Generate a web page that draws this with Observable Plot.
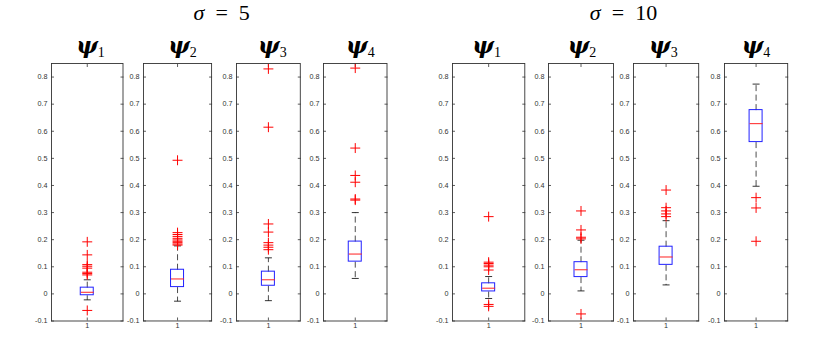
<!DOCTYPE html>
<html><head><meta charset="utf-8">
<script src="https://cdn.jsdelivr.net/npm/d3@7"></script>
<script src="https://cdn.jsdelivr.net/npm/@observablehq/plot@0.6"></script>
<style>
body{margin:0;background:#fff;}
#root{position:relative;width:830px;height:356px;overflow:hidden;background:#fff;}
.panel{position:absolute;}
#titles{position:absolute;left:0;top:0;pointer-events:none;}
</style></head><body><div id="root"></div>
<script>
// ---- data ----
const groups = ["5", "10"];
const params = ["1", "2", "3", "4"];
const xTicks = [1];
const yTicks = [-0.1, 0, 0.1, 0.2, 0.3, 0.4, 0.5, 0.6, 0.7, 0.8];
const whiskLo = [[-0.022, -0.027, -0.025, 0.057], [-0.017, 0.011, 0.033, 0.397]];
const q1      = [[-0.005, 0.025, 0.030, 0.119], [0.009, 0.062, 0.107, 0.560]];
const median  = [[0.006, 0.055, 0.052, 0.147], [0.021, 0.089, 0.136, 0.628]];
const q3      = [[0.023, 0.089, 0.082, 0.193], [0.039, 0.117, 0.174, 0.678]];
const whiskHi = [[0.052, 0.177, 0.133, 0.300], [0.064, 0.198, 0.270, 0.774]];
const outliers = [
  [
    [0.192, 0.144, 0.108, 0.102, 0.095, 0.080, 0.075, 0.070, -0.061],
    [0.493, 0.226, 0.219, 0.212, 0.205, 0.199, 0.194, 0.189, 0.184, 0.180],
    [0.830, 0.615, 0.258, 0.228, 0.189, 0.180, 0.172, 0.163],
    [0.833, 0.538, 0.437, 0.412, 0.350, 0.346]
  ],
  [
    [0.285, 0.117, 0.112, 0.106, 0.100, 0.088, -0.039, -0.046],
    [0.306, 0.236, 0.209, 0.203, -0.074],
    [0.383, 0.318, 0.306, 0.295, 0.285],
    [0.355, 0.317, 0.194]
  ]
];

// ---- layout (pixels) ----
const frameLeft  = [[50.7, 143.2, 235.5, 323.3], [451.7, 547.7, 633.3, 724.3]];
const frameRight = [[122.2, 211.3, 299.3, 386.8], [524.0, 612.7, 698.5, 787.5]];
const titleX     = [[90.5, 182.5, 272.3, 360.3], [486.7, 582.0, 663.3, 756.0]];
const groupX = [221.7, 623.5];
const frameTop = 63, frameBottom = 320.5;
const mL = 30, mR = 4, mT = 5, mB = 16;

const root = document.getElementById("root");
const fmt = d => Math.abs(d) < 1e-9 ? "0" : String(+d.toFixed(1));

let titleSvg = "";
groups.forEach((g, gi) => {
  titleSvg += `<text x="${groupX[gi]}" y="20" text-anchor="middle" font-family="'Liberation Serif', serif" font-size="22" fill="#000"><tspan font-style="italic">σ</tspan>\u2002=\u2002${g}</text>`;

  params.forEach((p, pi) => {
    const pw = frameRight[gi][pi] - frameLeft[gi][pi];
    const bh = 6.5 / pw, ch = 3.5 / pw;
    const st = {lo: whiskLo[gi][pi], q1: q1[gi][pi], med: median[gi][pi], q3: q3[gi][pi], hi: whiskHi[gi][pi]};
    const outs = outliers[gi][pi].map(v => ({v}));
    const chart = Plot.plot({
      width: pw + mL + mR,
      height: (frameBottom - frameTop) + mT + mB,
      marginLeft: mL, marginRight: mR, marginTop: mT, marginBottom: mB,
      style: {fontFamily: "'Liberation Sans', Arial, sans-serif", fontSize: "7.2px", color: "#333", background: "transparent", overflow: "visible"},
      x: {domain: [0.5, 1.5], axis: null},
      y: {domain: [-0.1, 0.85], axis: null},
      marks: [
        Plot.axisY({anchor: "left", ticks: yTicks, tickSize: -3, tickPadding: 7, tickFormat: fmt, stroke: "#333", strokeWidth: 0.8, label: null}),
        Plot.axisY({anchor: "right", ticks: yTicks, tickSize: -3, tickFormat: () => "", stroke: "#333", strokeWidth: 0.8, label: null}),
        Plot.axisX({anchor: "bottom", ticks: xTicks, tickSize: -3, tickPadding: 5, tickFormat: d => String(d), stroke: "#333", strokeWidth: 0.8, label: null}),
        Plot.axisX({anchor: "top", ticks: xTicks, tickSize: -3, tickFormat: () => "", stroke: "#333", strokeWidth: 0.8, label: null}),
        // whiskers (dashed)
        Plot.link([st], {x1: 1, x2: 1, y1: "q3", y2: "hi", stroke: "#000", strokeWidth: 0.7, strokeDasharray: "6,3.5"}),
        Plot.link([st], {x1: 1, x2: 1, y1: "q1", y2: "lo", stroke: "#000", strokeWidth: 0.7, strokeDasharray: "6,3.5"}),
        // caps
        Plot.link([st], {x1: 1 - ch, x2: 1 + ch, y1: "hi", y2: "hi", stroke: "#000", strokeWidth: 0.8}),
        Plot.link([st], {x1: 1 - ch, x2: 1 + ch, y1: "lo", y2: "lo", stroke: "#000", strokeWidth: 0.8}),
        // box
        Plot.rect([st], {x1: 1 - bh, x2: 1 + bh, y1: "q1", y2: "q3", stroke: "#2020ff", fill: "none", strokeWidth: 1}),
        // median
        Plot.link([st], {x1: 1 - bh, x2: 1 + bh, y1: "med", y2: "med", stroke: "#ff2020", strokeWidth: 1}),
        // outliers
        Plot.dot(outs, {x: 1, y: "v", symbol: "plus", r: 3.3, stroke: "#ff0000", strokeWidth: 1}),
        Plot.frame({stroke: "#333", strokeWidth: 0.9})
      ]
    });
    chart.classList.add("panel");
    chart.style.left = (frameLeft[gi][pi] - mL) + "px";
    chart.style.top = (frameTop - mT) + "px";
    root.appendChild(chart);

    titleSvg += `<text x="${titleX[gi][pi]}" y="53" text-anchor="middle" font-family="'DejaVu Serif', serif" fill="#000"><tspan font-size="23" font-style="italic" font-weight="bold">ψ</tspan><tspan font-size="14" font-family="'Liberation Serif', serif" dy="3.5">${p}</tspan></text>`;
  });
});
const overlay = document.createElementNS("http://www.w3.org/2000/svg", "svg");
overlay.setAttribute("id", "titles");
overlay.setAttribute("width", 830);
overlay.setAttribute("height", 356);
overlay.innerHTML = titleSvg;
root.appendChild(overlay);
</script>
</body></html>
